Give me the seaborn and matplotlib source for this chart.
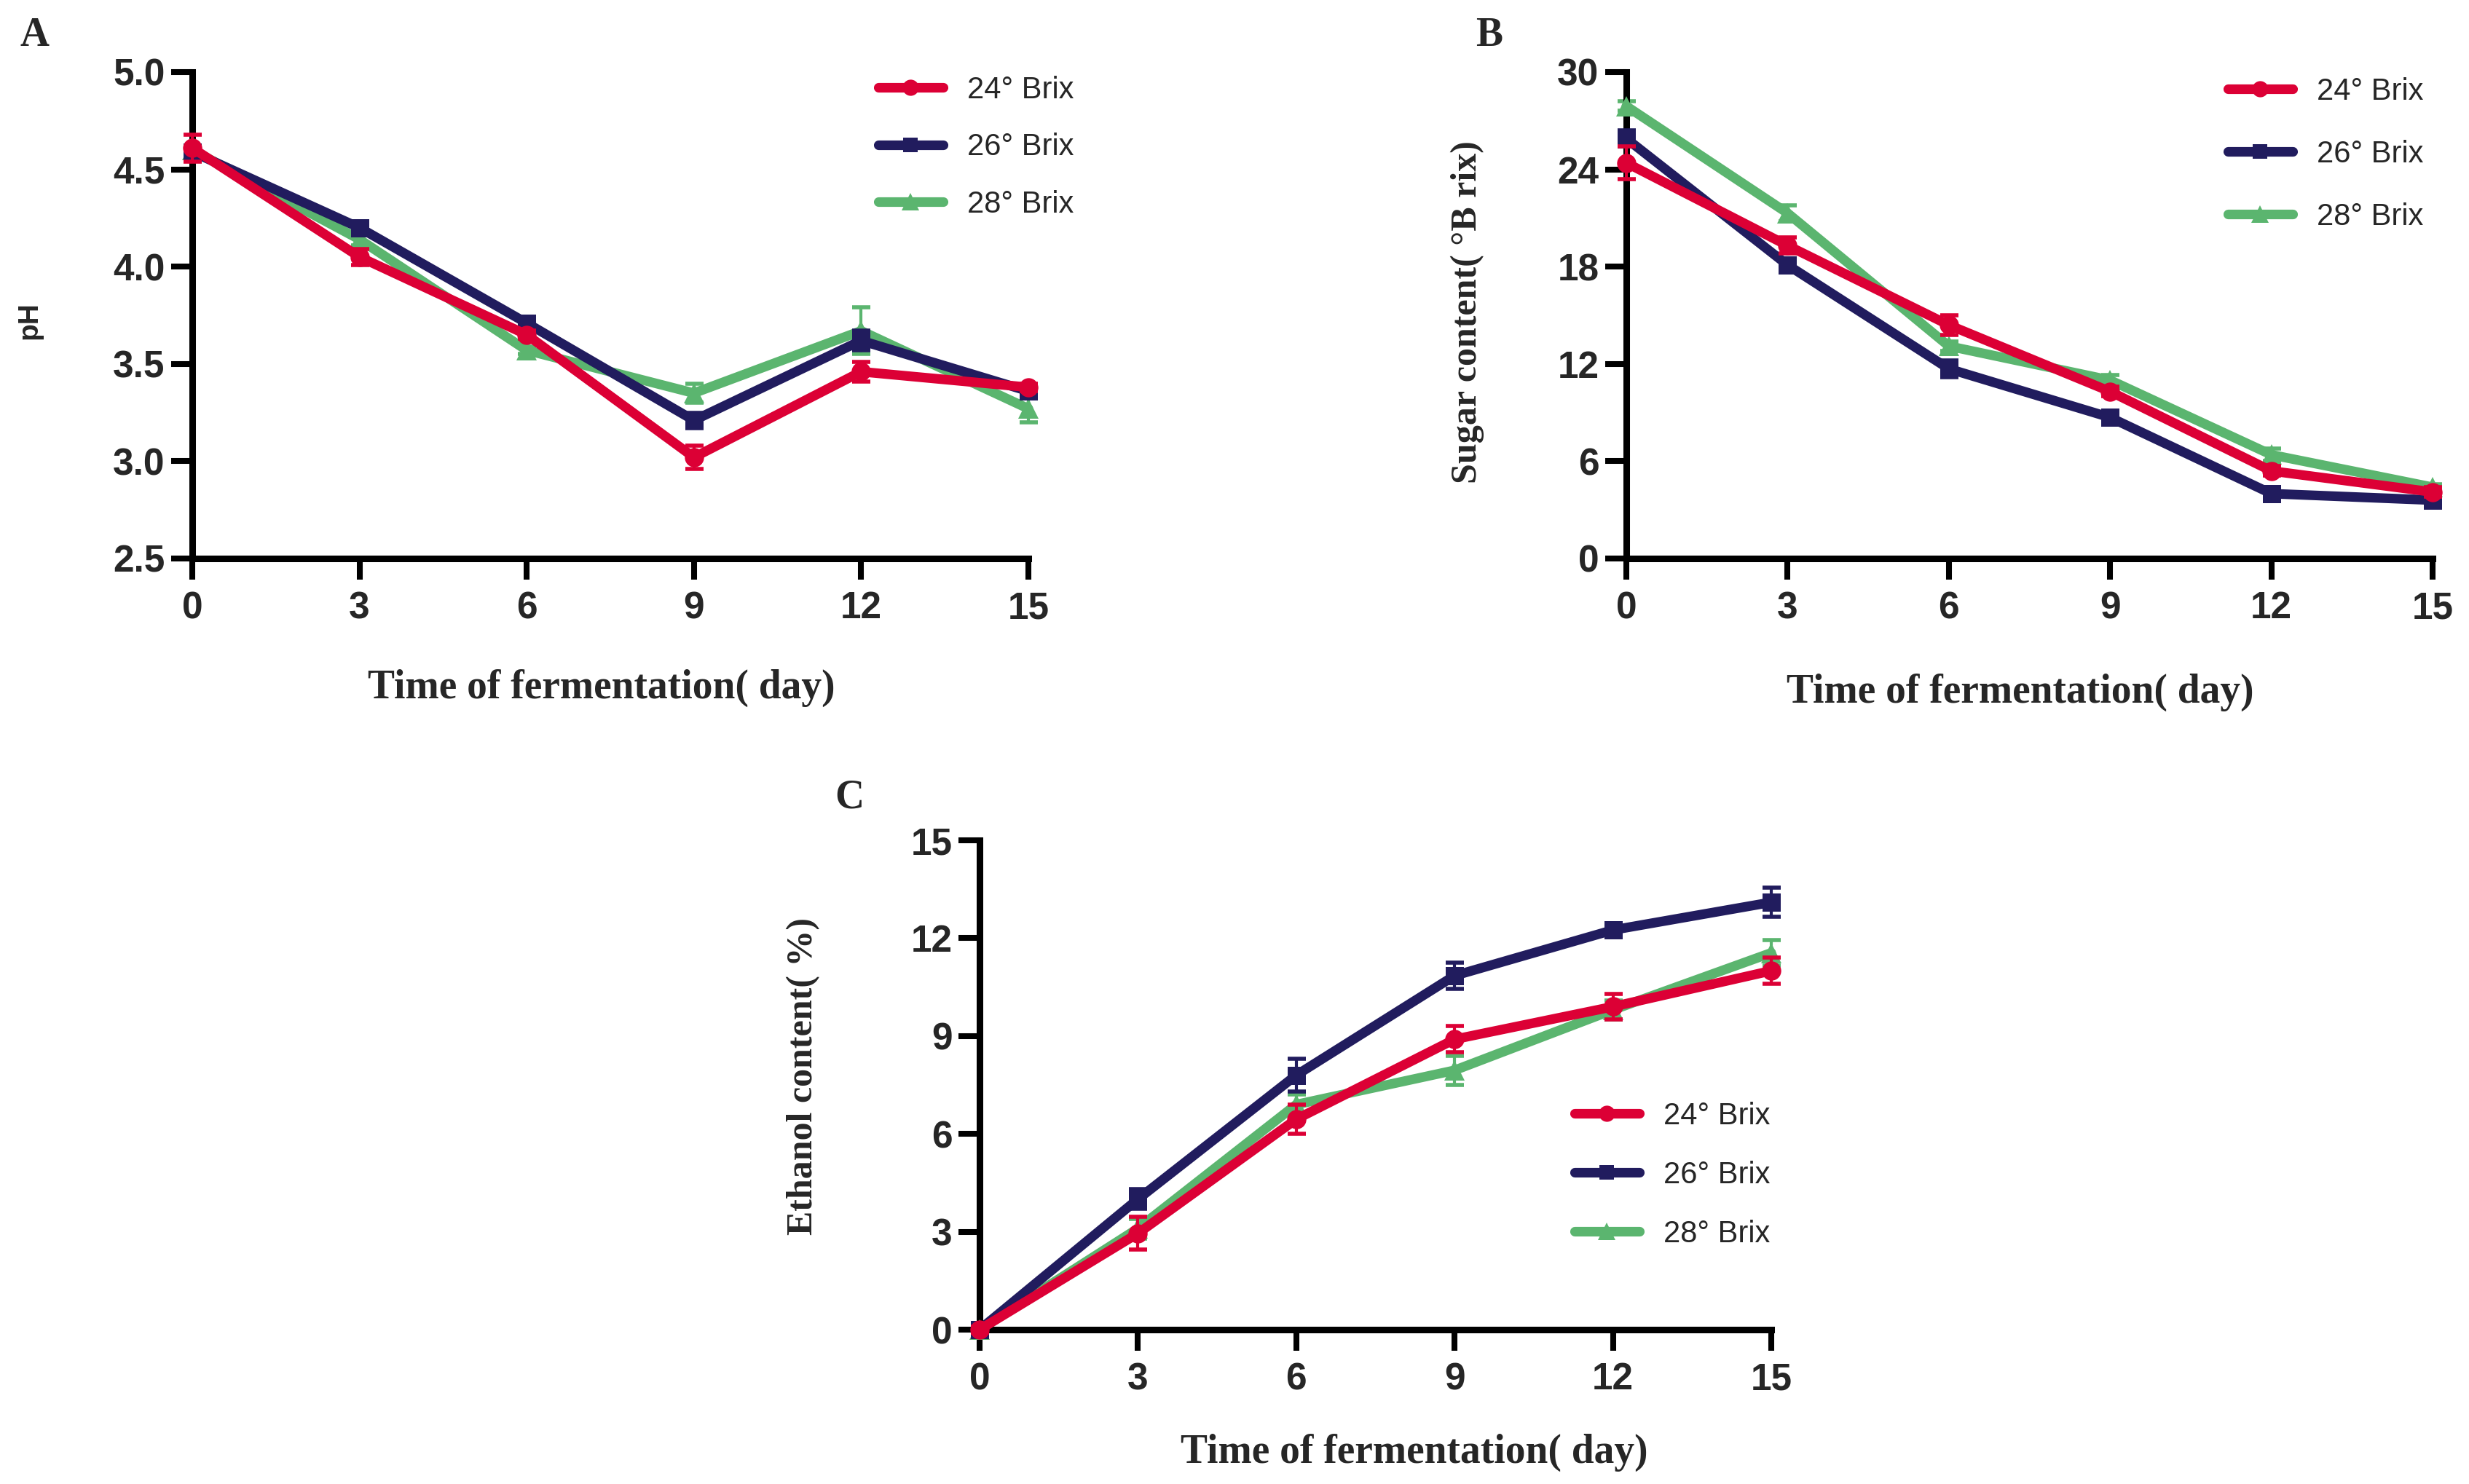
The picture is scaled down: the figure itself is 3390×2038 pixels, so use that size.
import numpy as np
import pandas as pd
import matplotlib
matplotlib.use("Agg")
import matplotlib.pyplot as plt
from matplotlib.lines import Line2D
import seaborn as sns

# ---------------- data ----------------
days = [0, 3, 6, 9, 12, 15]
series_labels = ["24° Brix", "26° Brix", "28° Brix"]

ph_24 = [4.61, 4.05, 3.65, 3.02, 3.46, 3.38]
ph_24_err = [0.07, 0.04, 0.02, 0.06, 0.05, 0.02]
ph_26 = [4.59, 4.20, 3.71, 3.21, 3.62, 3.36]
ph_26_err = [0.02, 0.03, 0.02, 0.04, 0.05, 0.02]
ph_28 = [4.60, 4.14, 3.57, 3.35, 3.67, 3.27]
ph_28_err = [0.02, 0.03, 0.02, 0.05, 0.12, 0.07]

sugar_24 = [24.4, 19.3, 14.4, 10.3, 5.4, 4.1]
sugar_24_err = [1.0, 0.5, 0.6, 0.3, 0.3, 0.3]
sugar_26 = [25.9, 18.1, 11.7, 8.7, 4.0, 3.6]
sugar_26_err = [0.5, 0.3, 0.5, 0.3, 0.2, 0.2]
sugar_28 = [27.9, 21.3, 13.1, 11.0, 6.4, 4.4]
sugar_28_err = [0.3, 0.5, 0.3, 0.3, 0.4, 0.2]

eth_24 = [0.0, 2.95, 6.45, 8.9, 9.9, 11.0]
eth_24_err = [0.1, 0.5, 0.45, 0.4, 0.4, 0.4]
eth_26 = [0.0, 4.0, 7.8, 10.85, 12.25, 13.1]
eth_26_err = [0.1, 0.3, 0.5, 0.4, 0.15, 0.45]
eth_28 = [0.0, 3.1, 6.9, 7.95, 9.8, 11.55]
eth_28_err = [0.1, 0.3, 0.3, 0.45, 0.3, 0.4]

colors = ["#DC0035", "#211C5E", "#5BB56F"]
markers = ["o", "s", "^"]
msizes = [19, 18, 20]

# ---------------- style ----------------
sns.set_style("ticks")
plt.rcParams["font.family"] = ["Liberation Sans", "DejaVu Sans"]

W, H = 3390, 2038
fig = plt.figure(figsize=(W / 100, H / 100), dpi=100)


def px_axes(l, t, r, b):
    return fig.add_axes([l / W, 1 - b / H, (r - l) / W, (b - t) / H])


def draw_panel(ax, vals, errs, ylim, yticks, yfmt):
    order = [2, 1, 0]  # draw green, navy, red (red on top)
    for i in order:
        df = pd.DataFrame({"day": days, "value": vals[i]})
        ax.errorbar(days, vals[i], yerr=errs[i], fmt="none", ecolor=colors[i],
                    elinewidth=3.0, capsize=9, capthick=4, clip_on=False,
                    zorder=2 + (2 - i) * 2)
        sns.lineplot(data=df, x="day", y="value", ax=ax, color=colors[i],
                     marker=markers[i], markersize=msizes[i], markeredgewidth=0,
                     linewidth=9.5, clip_on=False, zorder=3 + (2 - i) * 2,
                     errorbar=None, legend=False)
    ax.set_xlim(0, 15)
    ax.set_ylim(*ylim)
    ax.set_xticks(days)
    ax.set_yticks(yticks)
    ax.set_yticklabels([yfmt.format(v) for v in yticks])
    ax.set_xlabel("")
    ax.set_ylabel("")
    for s in ["top", "right"]:
        ax.spines[s].set_visible(False)
    for s in ["left", "bottom"]:
        ax.spines[s].set_linewidth(6.5)
        ax.spines[s].set_color("black")
    ax.tick_params(axis="both", which="major", length=21, width=5.8,
                   direction="out", color="black", labelsize=37)
    ax.tick_params(axis="x", pad=11)
    ax.tick_params(axis="y", pad=6)
    for lab in ax.get_xticklabels() + ax.get_yticklabels():
        lab.set_fontweight("bold")
        lab.set_family(["Liberation Sans", "DejaVu Sans"])


def add_legend(ax, left_px, top_px, spacing):
    handles = [Line2D([0], [0], color=colors[i], marker=markers[i],
                      markersize=msizes[i] - 3, markeredgewidth=0, linewidth=9.5)
               for i in range(3)]
    ax.legend(handles, series_labels, loc="upper left",
              bbox_to_anchor=(left_px / W, 1 - top_px / H),
              bbox_transform=fig.transFigure, frameon=False,
              borderaxespad=0, borderpad=0, handlelength=2.13,
              handletextpad=0.8, labelspacing=spacing,
              prop={"family": ["Liberation Sans", "DejaVu Sans"], "size": 30})


serif = ["Liberation Serif", "DejaVu Serif"]

# Panel A
axA = px_axes(264, 99, 1412, 767)
draw_panel(axA, [ph_24, ph_26, ph_28], [ph_24_err, ph_26_err, ph_28_err],
           (2.5, 5.0), [2.5, 3.0, 3.5, 4.0, 4.5, 5.0], "{:.1f}")
add_legend(axA, 1206, 104, 0.92)

# Panel B
axB = px_axes(2233, 99, 3340, 767)
draw_panel(axB, [sugar_24, sugar_26, sugar_28], [sugar_24_err, sugar_26_err, sugar_28_err],
           (0, 30), [0, 6, 12, 18, 24, 30], "{:d}")
add_legend(axB, 3059, 106, 1.1)

# Panel C
axC = px_axes(1345, 1154, 2432, 1826)
draw_panel(axC, [eth_24, eth_26, eth_28], [eth_24_err, eth_26_err, eth_28_err],
           (0, 15), [0, 3, 6, 9, 12, 15], "{:d}")
add_legend(axC, 2162, 1513, 0.98)

# Axis labels
xl = "Time of fermentation( day)"
fig.text(826 / W, 1 - 945 / H, xl, ha="center", va="center",
         fontsize=40, fontweight="bold", family=serif)
fig.text(2774 / W, 1 - 951 / H, xl, ha="center", va="center",
         fontsize=40, fontweight="bold", family=serif)
fig.text(1942 / W, 1 - 1995 / H, xl, ha="center", va="center",
         fontsize=40, fontweight="bold", family=serif)

fig.text(40 / W, 1 - 440 / H, "pH", ha="center", va="center", rotation=90,
         fontsize=28, fontweight="bold", family=["Liberation Sans", "DejaVu Sans"])
fig.text(2015 / W, 1 - 429 / H, "Sugar content( °B rix)", ha="center", va="center",
         rotation=90, fontsize=36, fontweight="bold", family=serif)
fig.text(1103 / W, 1 - 1478 / H, "Ethanol content( %)", ha="center", va="center",
         rotation=90, fontsize=36, fontweight="bold", family=serif)

# Panel letters
fig.text(27 / W, 1 - 63 / H, "A", ha="left", va="baseline", fontsize=40,
         fontweight="bold", family=serif)
fig.text(2026 / W, 1 - 63 / H, "B", ha="left", va="baseline", fontsize=40,
         fontweight="bold", family=serif)
fig.text(1146 / W, 1 - 1110 / H, "C", ha="left", va="baseline", fontsize=40,
         fontweight="bold", family=serif)

fig.savefig("out.png", dpi=100, facecolor="white")
